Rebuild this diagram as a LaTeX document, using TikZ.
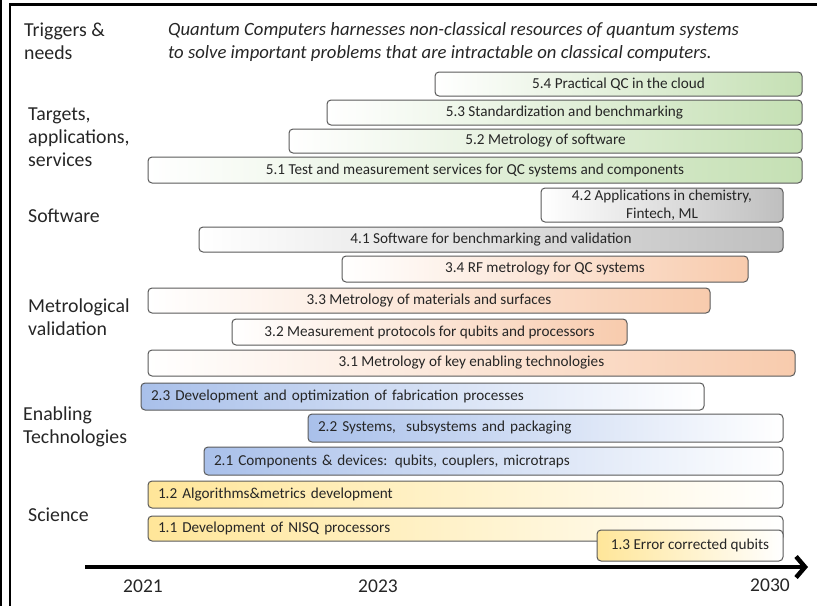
\documentclass[tikz,border=0pt]{standalone}
\usepackage{fontspec}
\setmainfont{Carlito}
\usetikzlibrary{arrows.meta}
\definecolor{grn}{HTML}{C5E0B4}
\definecolor{grnmid}{HTML}{DDEDE5}
\definecolor{gry}{HTML}{BFBFBF}
\definecolor{org}{HTML}{F8CBAD}
\definecolor{blu}{HTML}{A9C0EA}
\definecolor{ylw}{HTML}{FFE699}
\definecolor{edge}{HTML}{5A5A5A}
\tikzset{
  bar/.style={draw=edge,line width=1pt,rounded corners=4pt,inner sep=0pt,
     font=\fontsize{15.2}{17}\selectfont,text=black!85},
  green/.style={left color=white,middle color=grnmid,right color=grn},
  grey/.style={left color=white,right color=gry},
  orange/.style={left color=white,right color=org},
  blue/.style={left color=blu,right color=white},
  yellow/.style={left color=ylw,right color=white},
  lefttext/.style={text width=\tw pt,align=left},
  cat/.style={anchor=north west,inner sep=0pt,align=left,
     font=\fontsize{19.8}{23}\selectfont,text=black!85},
  year/.style={anchor=base,inner sep=0pt,font=\fontsize{19.5}{23}\selectfont,text=black!85},
  frame/.style={line width=2pt,black},
  axisline/.style={line width=4.5pt,black,-{Straight Barb[length=9pt,width=21pt]}}
}
\newcommand\rbox[7]{%
  \pgfmathsetmacro\bw{#4-#2}%
  \pgfmathsetmacro\bh{#5-#3}%
  \pgfmathsetmacro\tw{#4-#2-20}%
  \node[bar,#6,minimum width=\bw pt,minimum height=\bh pt] (#1) at ({(#2+#4)/2},{(#3+#5)/2}) {#7};}
\begin{document}
\begin{tikzpicture}[x=1pt,y=-1pt]
\useasboundingbox (0,0) rectangle (817,606);
% frame
\draw[line width=1.2pt] (1,0) -- (1,606);
\draw[frame] (10,4.5) -- (10,606);
\draw[frame,line width=2.5pt] (9,4.5) -- (817,4.5);
% category labels
\node[cat] (c6) at (24,23) {Triggers \&\\needs};
\node[cat] (c5) at (28,108) {Targets,\\applications,\\services};
\node[cat] (c4) at (28,209) {Software};
\node[cat] (c3) at (28,299) {Metrological\\validation};
\node[cat] (c2) at (23,407) {Enabling\\Technologies};
\node[cat] (c1) at (28,508) {Science};
\node[anchor=north west,inner sep=0pt,align=left,font=\fontsize{18.7}{23}\selectfont\itshape,text=black!85] (head) at (168,22)
 {Quantum Computers harnesses non-classical resources of quantum systems\\to solve important problems that are intractable on classical computers.};
% bars
\rbox{b54}{435}{72}{802}{96}{green}{5.4 Practical QC in the cloud}
\rbox{b53}{327}{100}{802}{125}{green}{5.3 Standardization and benchmarking}
\rbox{b52}{289}{129}{802}{153}{green}{5.2 Metrology of software}
\rbox{b51}{148}{157}{802}{183}{green}{5.1 Test and measurement services for QC systems and components}
\rbox{b42}{541}{188}{783}{222}{grey,align=center,font=\fontsize{15.2}{17.5}\selectfont}{4.2 Applications in chemistry,\\Fintech, ML}
\rbox{b41}{199}{227}{783}{252}{grey}{4.1 Software for benchmarking and validation}
\rbox{b34}{342}{256}{748}{282}{orange}{3.4 RF metrology for QC systems}
\rbox{b33}{148}{288}{710}{313}{orange}{3.3 Metrology of materials and surfaces}
\rbox{b32}{232}{319}{627}{345}{orange}{3.2 Measurement protocols for qubits and processors}
\rbox{b31}{148}{350}{795}{376}{orange}{3.1 Metrology of key enabling technologies}
\rbox{b23}{141}{383}{704}{410}{blue,lefttext}{2.3 Development and optimization of fabrication processes}
\rbox{b22}{308}{414}{783}{442}{blue,lefttext}{2.2 Systems,\ \ subsystems and packaging}
\rbox{b21}{204}{447}{783}{475}{blue,lefttext}{2.1 Components \& devices: qubits,\ couplers, microtraps}
\rbox{b12}{148}{481}{783}{508}{yellow,lefttext}{1.2 Algorithms\&metrics development}
\rbox{b11}{148}{516}{783}{541}{yellow,lefttext}{1.1 Development of NISQ processors}
\rbox{b13}{597}{530}{783}{561}{yellow}{1.3 Error corrected qubits}
% time axis
\coordinate (ax0) at (85,567);
\coordinate (ax1) at (808,567);
\draw[axisline] (ax0) -- (ax1);
\node[year] (y21) at (143,592) {2021};
\node[year] (y23) at (378,592) {2023};
\node[year] (y30) at (770,591) {2030};
\end{tikzpicture}
\end{document}
